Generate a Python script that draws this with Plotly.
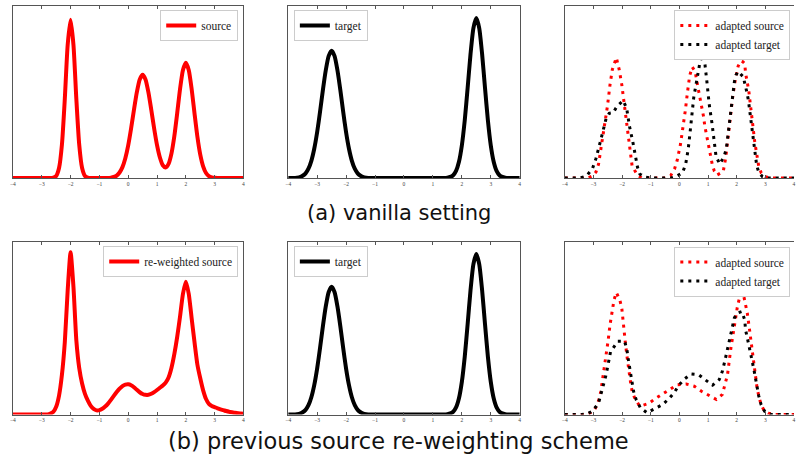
import plotly.graph_objects as go

# ---------------- data ----------------
X_GRID = [round(-4.0 + 0.1 * i, 1) for i in range(81)]
X_TICKS = [-4, -3, -2, -1, 0, 1, 2, 3, 4]

SOURCE_A = [0, 0, 0, 0, 0, 0, 0, 0, 0, 0, 0, 0, 0, 0,
            0.002, 0.012, 0.058, 0.194, 0.460, 0.774, 0.920, 0.774, 0.460, 0.194, 0.058, 0.012, 0.002,
            0, 0, 0, 0, 0, 0, 0,
            0.002, 0.006, 0.014, 0.032, 0.063, 0.115, 0.190, 0.288, 0.397, 0.499, 0.573, 0.600,
            0.573, 0.499, 0.397, 0.288, 0.191, 0.119, 0.074, 0.061, 0.082, 0.142, 0.243, 0.377,
            0.519, 0.628, 0.670, 0.628, 0.519, 0.377, 0.241, 0.136, 0.068, 0.029, 0.011, 0.004, 0.001,
            0, 0, 0, 0, 0, 0, 0, 0, 0, 0]

TARGET = [0, 0, 0, 0.002, 0.005, 0.013, 0.027, 0.054, 0.100, 0.170, 0.266, 0.385, 0.513,
          0.628, 0.710, 0.740, 0.710, 0.628, 0.513, 0.385, 0.266, 0.170, 0.100, 0.054, 0.027,
          0.013, 0.005, 0.002,
          0, 0, 0, 0, 0, 0, 0, 0, 0, 0, 0, 0, 0, 0, 0, 0, 0, 0, 0, 0, 0, 0, 0, 0, 0, 0, 0,
          0.002, 0.006, 0.016, 0.041, 0.094, 0.189, 0.335, 0.524, 0.721, 0.872, 0.930, 0.872,
          0.721, 0.524, 0.335, 0.189, 0.094, 0.041, 0.016, 0.006, 0.002,
          0, 0, 0, 0, 0]

REWEIGHTED_SOURCE_B = [0, 0, 0, 0, 0, 0, 0, 0, 0, 0, 0, 0, 0,
                       0.005, 0.015, 0.045, 0.11, 0.23, 0.42, 0.72, 0.94, 0.74, 0.43, 0.27, 0.18,
                       0.12, 0.08, 0.05, 0.032, 0.024, 0.025, 0.033, 0.046, 0.063, 0.085, 0.108,
                       0.130, 0.150, 0.165, 0.173, 0.175, 0.170, 0.158, 0.143, 0.129, 0.119, 0.114,
                       0.114, 0.120, 0.130, 0.142, 0.155, 0.168, 0.185, 0.215, 0.27, 0.35, 0.45,
                       0.57, 0.70, 0.77, 0.70, 0.56, 0.42, 0.29, 0.21, 0.14, 0.09, 0.062, 0.05,
                       0.043, 0.036, 0.030, 0.025, 0.020, 0.016, 0.013, 0.010, 0.008, 0.006, 0.005]

ADAPTED_SOURCE_A_X = [-4.0, -3.2, -3.03, -2.91, -2.82, -2.72, -2.62, -2.51, -2.42, -2.34, -2.2,
                      -2.1, -2.01, -1.92, -1.82, -1.74, -1.65, -1.46, -1.3, -0.5, -0.3, -0.17,
                      -0.08, 0.04, 0.13, 0.21, 0.28, 0.36, 0.45, 0.55, 0.64, 0.71, 0.77, 0.84,
                      0.89, 0.95, 1.03, 1.09, 1.15, 1.22, 1.31, 1.53, 1.62, 1.70, 1.78, 1.86,
                      1.95, 2.05, 2.14, 2.22, 2.28, 2.31, 2.42, 2.50, 2.56, 2.63, 2.71, 2.77,
                      2.86, 3.0, 3.15, 4.0]
ADAPTED_SOURCE_A_Y = [0, 0, 0.012, 0.035, 0.081, 0.187, 0.30, 0.418, 0.543, 0.63, 0.70,
                      0.63, 0.543, 0.418, 0.30, 0.187, 0.071, 0.015, 0, 0, 0.015, 0.052,
                      0.10, 0.197, 0.29, 0.395, 0.495, 0.595, 0.645, 0.62, 0.534, 0.476, 0.418, 0.36,
                      0.30, 0.245, 0.19, 0.13, 0.077, 0.04, 0.017, 0.037, 0.12, 0.24, 0.36, 0.47,
                      0.57, 0.65, 0.68, 0.675, 0.665, 0.61, 0.51, 0.41, 0.31, 0.21, 0.11, 0.067,
                      0.029, 0.008, 0, 0]

ADAPTED_TARGET_A_X = [-4.0, -3.5, -3.3, -3.2, -3.03, -2.91, -2.78, -2.65, -2.55, -2.45, -2.31,
                      -2.17, -1.96, -1.84, -1.74, -1.62, -1.53, -1.46, -1.38, -1.2, -1.0, -0.3,
                      -0.1, 0.11, 0.22, 0.31, 0.37, 0.43, 0.50, 0.55, 0.64, 0.71, 0.775, 0.89,
                      0.96, 1.04, 1.14, 1.24, 1.28, 1.41, 1.56, 1.64, 1.71, 1.81, 1.92, 1.98,
                      2.05, 2.23, 2.30, 2.36, 2.41, 2.48, 2.55, 2.62, 2.70, 2.78, 2.9, 3.1, 4.0]
ADAPTED_TARGET_A_Y = [0, 0, 0.008, 0.02, 0.056, 0.114, 0.197, 0.29, 0.35, 0.376, 0.38,
                      0.418, 0.45, 0.405, 0.30, 0.206, 0.11, 0.062, 0.023, 0.005, 0, 0,
                      0.01, 0.03, 0.08, 0.17, 0.26, 0.37, 0.466, 0.514, 0.61, 0.665, 0.717, 0.665,
                      0.56, 0.43, 0.316, 0.171, 0.125, 0.081, 0.125, 0.171, 0.268, 0.412, 0.56, 0.60,
                      0.62, 0.588, 0.543, 0.495, 0.45, 0.36, 0.25, 0.15, 0.07, 0.03, 0.008, 0, 0]

ADAPTED_SOURCE_B_X = [-4.0, -3.3, -3.15, -2.97, -2.88, -2.80, -2.74, -2.65, -2.57, -2.49, -2.42,
                      -2.34, -2.28, -2.2, -2.08, -2.01, -1.96, -1.89, -1.82, -1.75, -1.70, -1.65,
                      -1.55, -1.38, -1.07, -0.84, -0.58, -0.34, -0.07, 0.24, 0.52, 0.77, 1.03,
                      1.29, 1.50, 1.62, 1.68, 1.79, 1.92, 2.02, 2.14, 2.25, 2.31, 2.37, 2.45,
                      2.52, 2.60, 2.68, 2.71, 2.77, 2.85, 2.95, 3.1, 3.3, 4.0]
ADAPTED_SOURCE_B_Y = [0, 0, 0.006, 0.025, 0.052, 0.091, 0.135, 0.231, 0.327, 0.424, 0.52,
                      0.617, 0.665, 0.707, 0.665, 0.617, 0.52, 0.424, 0.327, 0.231, 0.183, 0.135,
                      0.091, 0.048, 0.064, 0.092, 0.121, 0.148, 0.173, 0.177, 0.164, 0.135, 0.11,
                      0.087, 0.116, 0.193, 0.231, 0.376, 0.52, 0.62, 0.707, 0.684, 0.636, 0.588, 0.49,
                      0.395, 0.299, 0.202, 0.156, 0.108, 0.058, 0.025, 0.008, 0, 0]

ADAPTED_TARGET_B_X = [-4.0, -3.4, -3.2, -3.03, -2.82, -2.73, -2.65, -2.57, -2.51, -2.46, -2.40,
                      -2.31, -2.15, -1.91, -1.83, -1.79, -1.74, -1.70, -1.65, -1.60, -1.51, -1.36,
                      -1.13, -0.84, -0.58, -0.34, -0.17, -0.03, 0.18, 0.41, 0.67, 0.93, 1.16,
                      1.39, 1.50, 1.60, 1.68, 1.75, 1.83, 1.92, 2.02, 2.18, 2.28, 2.31, 2.37,
                      2.44, 2.54, 2.61, 2.66, 2.71, 2.77, 2.85, 2.97, 3.2, 4.0]
ADAPTED_TARGET_B_Y = [0, 0, 0.005, 0.02, 0.066, 0.117, 0.174, 0.222, 0.27, 0.318, 0.366,
                      0.385, 0.424, 0.424, 0.376, 0.327, 0.279, 0.231, 0.183, 0.135, 0.087, 0.039,
                      0.01, 0.033, 0.058, 0.096, 0.129, 0.168, 0.206, 0.235, 0.231, 0.198, 0.17,
                      0.202, 0.25, 0.32, 0.38, 0.44, 0.50, 0.56, 0.588, 0.597, 0.549, 0.49, 0.445,
                      0.395, 0.31, 0.252, 0.204, 0.156, 0.108, 0.058, 0.02, 0, 0]

CAPTION_A = "(a) vanilla setting"
CAPTION_B = "(b) previous source re-weighting scheme"

# ---------------- layout helpers ----------------
W, H = 796, 461
AX_COLOR = "#555555"
SERIF = "Liberation Serif"

def px_x(a, b):
    return [a / W, b / W]

def px_y(top, bottom):
    return [1 - bottom / H, 1 - top / H]

COLS = [px_x(10, 242), px_x(287, 520), px_x(565.3, 796)]
ROWS = [px_y(6, 178), px_y(242, 414.5)]

fig = go.Figure()

def add_line(i, x, y, name, color, dotted=False, spline=False):
    fig.add_trace(go.Scatter(
        x=x, y=y, name=name, mode="lines",
        line=dict(color=color, width=3 if dotted else 4,
                  dash="3px,5px" if dotted else "solid",
                  shape="spline" if spline else "linear", smoothing=0.6),
        xaxis="x" if i == 1 else f"x{i}", yaxis="y" if i == 1 else f"y{i}",
        legend="legend" if i == 1 else f"legend{i}",
        hoverinfo="skip",
    ))

add_line(1, X_GRID, SOURCE_A, "source", "#ff0000", spline=True)
add_line(2, X_GRID, TARGET, "target", "#000000", spline=True)
add_line(3, ADAPTED_SOURCE_A_X, ADAPTED_SOURCE_A_Y, "adapted source", "#ff0000", dotted=True)
add_line(3, ADAPTED_TARGET_A_X, ADAPTED_TARGET_A_Y, "adapted target", "#000000", dotted=True)
add_line(4, X_GRID, REWEIGHTED_SOURCE_B, "re-weighted source", "#ff0000", spline=True)
add_line(5, X_GRID, TARGET, "target", "#000000", spline=True)
add_line(6, ADAPTED_SOURCE_B_X, ADAPTED_SOURCE_B_Y, "adapted source", "#ff0000", dotted=True)
add_line(6, ADAPTED_TARGET_B_X, ADAPTED_TARGET_B_Y, "adapted target", "#000000", dotted=True)

layout = dict(
    width=W, height=H, margin=dict(l=0, r=0, t=0, b=0),
    paper_bgcolor="white", plot_bgcolor="white", showlegend=True,
)

for i in range(1, 7):
    r, c = (i - 1) // 3, (i - 1) % 3
    sfx = "" if i == 1 else str(i)
    layout[f"xaxis{sfx}"] = dict(
        domain=COLS[c], range=[-4, 4], anchor=f"y{sfx}",
        tickvals=X_TICKS, ticks="inside", ticklen=3, tickcolor=AX_COLOR, tickwidth=0.8,
        showline=True, linecolor=AX_COLOR, linewidth=1, mirror="ticks",
        showgrid=False, zeroline=False,
        tickfont=dict(family=SERIF, size=5.5, color="#444444"),
        fixedrange=True,
    )
    layout[f"yaxis{sfx}"] = dict(
        domain=ROWS[r], range=[0, 1], anchor=f"x{sfx}",
        showticklabels=False, ticks="", showgrid=False, zeroline=False,
        showline=True, linecolor=AX_COLOR, linewidth=1, mirror=(c != 2),
        fixedrange=True,
    )

legend_base = dict(bgcolor="white", bordercolor="#cccccc", borderwidth=1,
                   font=dict(family=SERIF, size=11.5, color="#222222"),
                   itemwidth=30, tracegroupgap=0)
legend_pos = {
    1: dict(x=236.7 / W, y=1 - 10 / H, xanchor="right", yanchor="top"),
    2: dict(x=292.7 / W, y=1 - 10 / H, xanchor="left", yanchor="top"),
    3: dict(x=792.3 / W, y=1 - 10 / H, xanchor="right", yanchor="top"),
    4: dict(x=236.7 / W, y=1 - 246 / H, xanchor="right", yanchor="top"),
    5: dict(x=292.7 / W, y=1 - 246 / H, xanchor="left", yanchor="top"),
    6: dict(x=792.3 / W, y=1 - 246.5 / H, xanchor="right", yanchor="top"),
}
for i, pos in legend_pos.items():
    key = "legend" if i == 1 else f"legend{i}"
    layout[key] = dict(legend_base, **pos)

layout["annotations"] = [
    dict(text=CAPTION_A, x=0.5, y=1 - 213 / H, xref="paper", yref="paper",
         xanchor="center", yanchor="middle", showarrow=False,
         font=dict(family="DejaVu Sans", size=21, color="#111111")),
    dict(text=CAPTION_B, x=0.5, y=1 - 441 / H, xref="paper", yref="paper",
         xanchor="center", yanchor="middle", showarrow=False,
         font=dict(family="DejaVu Sans", size=22.5, color="#111111")),
]

fig.update_layout(**layout)
fig.write_html("out.html", config={"displayModeBar": False},
               post_script="document.body.style.margin='0px';document.body.style.overflow='hidden';")
